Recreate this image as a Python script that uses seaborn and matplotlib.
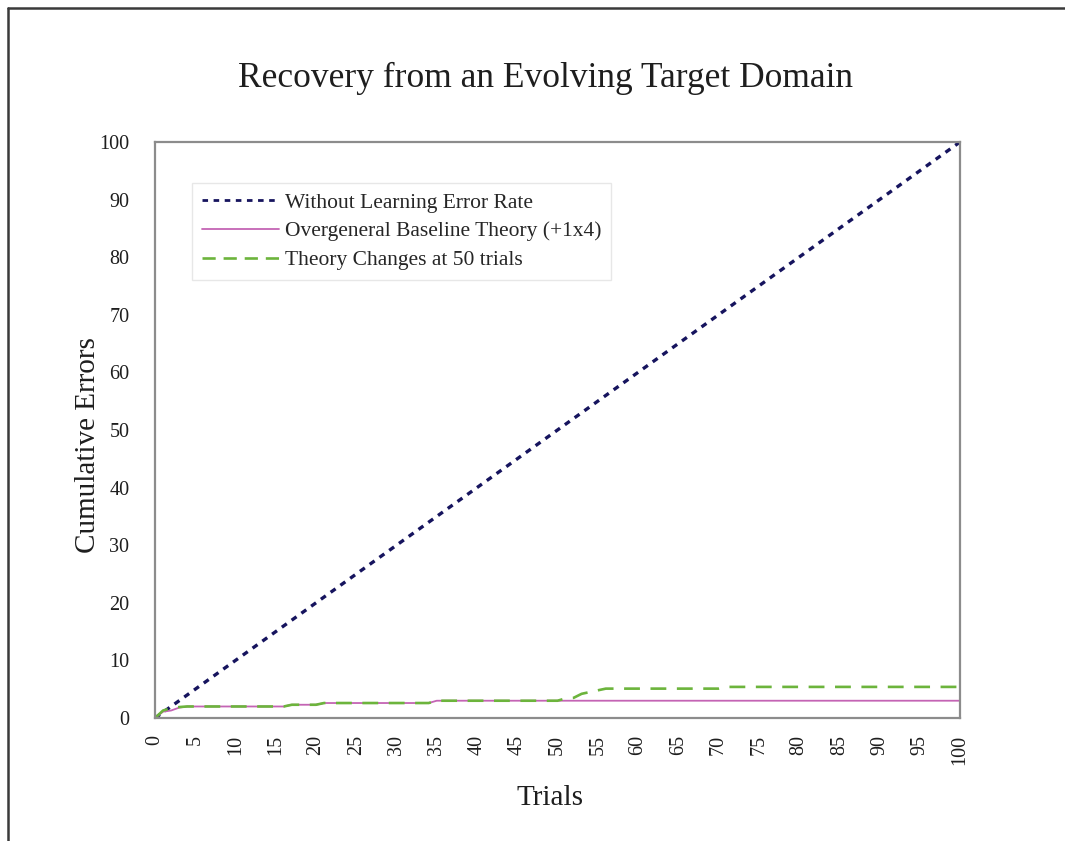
import matplotlib
matplotlib.use("Agg")
import matplotlib.pyplot as plt
from matplotlib.lines import Line2D
import numpy as np
import pandas as pd
import seaborn as sns

# Cumulative errors per trial for each learner
no_learning_trials = [0, 5, 10, 15, 20, 25, 30, 35, 40, 45, 50, 55, 60, 65, 70, 75, 80, 85, 90, 95, 100]
no_learning_errors = [0, 5, 10, 15, 20, 25, 30, 35, 40, 45, 50, 55, 60, 65, 70, 75, 80, 85, 90, 95, 100]

baseline_trials = [0, 1, 2, 3, 4, 16, 17, 20, 21, 34, 35, 100]
baseline_errors = [0, 1.1, 1.3, 1.8, 2.0, 2.0, 2.3, 2.3, 2.6, 2.6, 3.0, 3.0]

changes_trials = [0, 1, 2, 3, 4, 16, 17, 20, 21, 34, 35, 50, 51, 52, 53, 54, 55, 56, 70, 71, 100]
changes_errors = [0, 1.3, 1.7, 1.9, 2.0, 2.0, 2.3, 2.3, 2.6, 2.6, 3.0, 3.0, 3.4, 3.5, 4.2, 4.5, 4.8, 5.1, 5.1, 5.4, 5.4]

series_labels = ["Without Learning Error Rate",
                 "Overgeneral Baseline Theory (+1x4)",
                 "Theory Changes at 50 trials"]
x_ticks = list(range(0, 101, 5))
y_ticks = list(range(0, 101, 10))

sns.set_theme(style="white")
plt.rcParams["font.family"] = ["Liberation Serif", "DejaVu Serif"]

fig = plt.figure(figsize=(10.65, 8.41), dpi=100)
ax = fig.add_axes([155 / 1065, 123 / 841, 805 / 1065, 576 / 841])

navy = "#16145e"
orchid = "#c464b4"
green = "#6cb43c"

df_a = pd.DataFrame({"trial": no_learning_trials, "errors": no_learning_errors})
df_b = pd.DataFrame({"trial": baseline_trials, "errors": baseline_errors})
df_c = pd.DataFrame({"trial": changes_trials, "errors": changes_errors})

sns.lineplot(data=df_a, x="trial", y="errors", ax=ax, color=navy, lw=2.4,
             linestyle=(0, (1.8, 1.8)), estimator=None, sort=False)
sns.lineplot(data=df_b, x="trial", y="errors", ax=ax, color=orchid, lw=1.3,
             estimator=None, sort=False)
sns.lineplot(data=df_c, x="trial", y="errors", ax=ax, color=green, lw=1.9,
             linestyle=(0, (6, 4)), estimator=None, sort=False)

ax.set_xlim(0, 100)
ax.set_ylim(0, 100)
ax.set_xticks(x_ticks)
ax.set_yticks(y_ticks)
ax.set_xticklabels([str(t) for t in x_ticks], rotation=90, fontsize=14.5)
ax.set_yticklabels([str(t) for t in y_ticks], fontsize=14.5)
ax.tick_params(axis="both", direction="inout", length=9, width=1,
               color="#d4d4d4", labelcolor="#1e1e1e")
ax.tick_params(axis="y", pad=14)
ax.tick_params(axis="x", pad=8)
ax.set_xlabel("")
ax.set_ylabel("")
for sp in ax.spines.values():
    sp.set_color("#8c8c8c")
    sp.set_linewidth(1.6)

handles = [
    Line2D([], [], color=navy, lw=2.0, linestyle=(0, (2, 2))),
    Line2D([], [], color=orchid, lw=1.3),
    Line2D([], [], color=green, lw=1.9, linestyle=(0, (5, 3))),
]
leg = ax.legend(handles, series_labels, loc="upper left",
                bbox_to_anchor=(37 / 805, 1 - 41 / 576), fontsize=15.5,
                handlelength=3.6, handletextpad=0.25, labelspacing=0.4,
                frameon=True, fancybox=False, borderpad=0.45,
                borderaxespad=0)
leg.get_frame().set_edgecolor("#e2e2e2")
leg.get_frame().set_linewidth(1.0)

fig.text(546 / 1065, 1 - 78 / 841, "Recovery from an Evolving Target Domain",
         ha="center", va="center", fontsize=25.5, color="#1e1e1e")
fig.text(88 / 1065, 1 - 445 / 841, "Cumulative Errors", rotation=90,
         ha="center", va="center", fontsize=21, color="#1e1e1e")
fig.text(550 / 1065, 1 - 798 / 841, "Trials", ha="center", va="center",
         fontsize=21, color="#1e1e1e")

# Outer frame (left and top edges)
fig.add_artist(Line2D([8 / 1065, 8 / 1065], [0, 1 - 8 / 841],
                      transform=fig.transFigure, color="#3a3a3a", lw=1.8))
fig.add_artist(Line2D([8 / 1065, 1], [1 - 8 / 841, 1 - 8 / 841],
                      transform=fig.transFigure, color="#3a3a3a", lw=1.8))

fig.savefig("out.png", dpi=100)
